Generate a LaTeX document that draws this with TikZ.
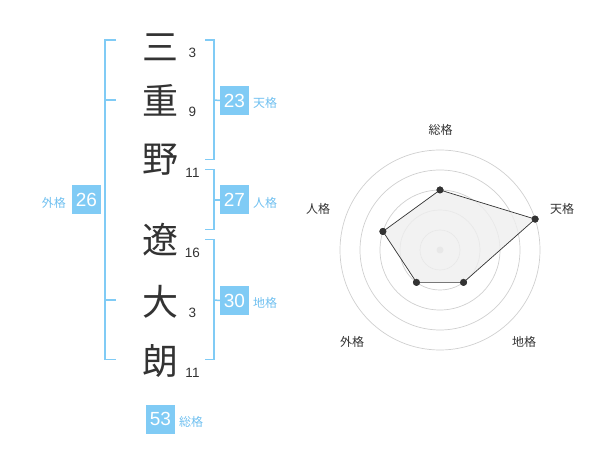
\documentclass[tikz,border=0pt]{standalone}
\usepackage{fontspec}
\usetikzlibrary{calc}
\setmainfont{Liberation Sans}
\newfontfamily\cjk{Noto Sans CJK JP}
\definecolor{brk}{HTML}{80CBF5}
\definecolor{lbl}{HTML}{70C0F0}
\definecolor{ink}{HTML}{333333}
\definecolor{ring}{HTML}{CFCFCF}
\definecolor{area}{HTML}{EFEFEF}
\begin{document}
\begin{tikzpicture}[x=1pt,y=-1pt,
  kanji/.style={font=\cjk\fontsize{36}{36}\selectfont, text=ink, inner sep=0},
  strokes/.style={font=\fontsize{13.5}{13.5}\selectfont, text=ink, inner sep=0},
  numbox/.style={fill=brk, text=white, minimum width=29, minimum height=29, inner sep=0, font=\fontsize{19}{19}\selectfont},
  lab/.style={text=lbl, font=\cjk\fontsize{12}{12}\selectfont, inner sep=0},
  brline/.style={draw=brk, line width=1.5},
  rlab/.style={text=ink, font=\cjk\fontsize{12}{12}\selectfont, inner sep=0},
  ringline/.style={draw=ring, line width=0.7},
  dot/.style={circle, fill=ink, inner sep=0, minimum size=7}
]
\useasboundingbox (0,0) rectangle (600,470);

% kanji
\node[kanji] (k1) at (160,47) {三};
\node[kanji] (k2) at (160,100) {重};
\node[kanji] (k3) at (160,160) {野};
\node[kanji] (k4) at (160,240) {遼};
\node[kanji] (k5) at (160,302) {大};
\node[kanji] (k6) at (160,361) {朗};
% strokes
\node[strokes] (s1) at (192.5,53) {3};
\node[strokes] (s2) at (192.5,112) {9};
\node[strokes] (s3) at (192.5,173) {11};
\node[strokes] (s4) at (192.5,253) {16};
\node[strokes] (s5) at (192.5,313) {3};
\node[strokes] (s6) at (192.5,373) {11};

% brackets
\draw[brline] (116,40) -- (105,40) -- (105,359.5) -- (116,359.5);
\draw[brline] (105,100) -- (116,100);
\draw[brline] (105,300) -- (116,300);

\draw[brline] (205,40) -- (214,40) -- (214,159.5) -- (205,159.5);
\draw[brline] (205,169.5) -- (214,169.5) -- (214,229.5) -- (205,229.5);
\draw[brline] (205,239.5) -- (214,239.5) -- (214,359.5) -- (205,359.5);

% boxes
\node[numbox] (ten) at (234.5,100.5) {23};
\node[numbox] (jin) at (234.5,200) {27};
\node[numbox] (chi) at (234.5,300.5) {30};
\node[numbox] (gai) at (86.5,200) {26};
\node[numbox] (sou) at (160.5,419) {53};
\draw[brline] (214,100) -- (ten.west);
\draw[brline] (214,200) -- (jin.west);
\draw[brline] (214,300) -- (chi.west);

\node[lab, anchor=west] (tenl) at (253,103) {天格};
\node[lab, anchor=west] (jinl) at (253,203) {人格};
\node[lab, anchor=west] (chil) at (253,303) {地格};
\node[lab, anchor=east] (gail) at (66,203) {外格};
\node[lab, anchor=west] (soul) at (179,422) {総格};

% radar
\coordinate (c) at (440,250);
\foreach \r in {20,40,60,80,100} \draw[ringline] (c) circle[radius=\r];
\fill[ring] (c) circle[radius=3.5];
\node[dot] (p1) at ($(c)+(-90:60)$) {};
\node[dot] (p2) at ($(c)+(-18:100)$) {};
\node[dot] (p3) at ($(c)+(54:40)$) {};
\node[dot] (p4) at ($(c)+(126:40)$) {};
\node[dot] (p5) at ($(c)+(198:60)$) {};
\filldraw[fill=area, fill opacity=0.8, draw=ink, line width=0.7] (p1.center) -- (p2.center) -- (p3.center) -- (p4.center) -- (p5.center) -- cycle;
\foreach \p in {p1,p2,p3,p4,p5} \fill[ink] (\p.center) circle[radius=3.5];

\node[rlab] (r1) at (440.5,130) {総格};
\node[rlab] (r2) at (562,208.5) {天格};
\node[rlab] (r3) at (524,342) {地格};
\node[rlab] (r4) at (352,342) {外格};
\node[rlab] (r5) at (318,208.5) {人格};
\end{tikzpicture}
\end{document}
